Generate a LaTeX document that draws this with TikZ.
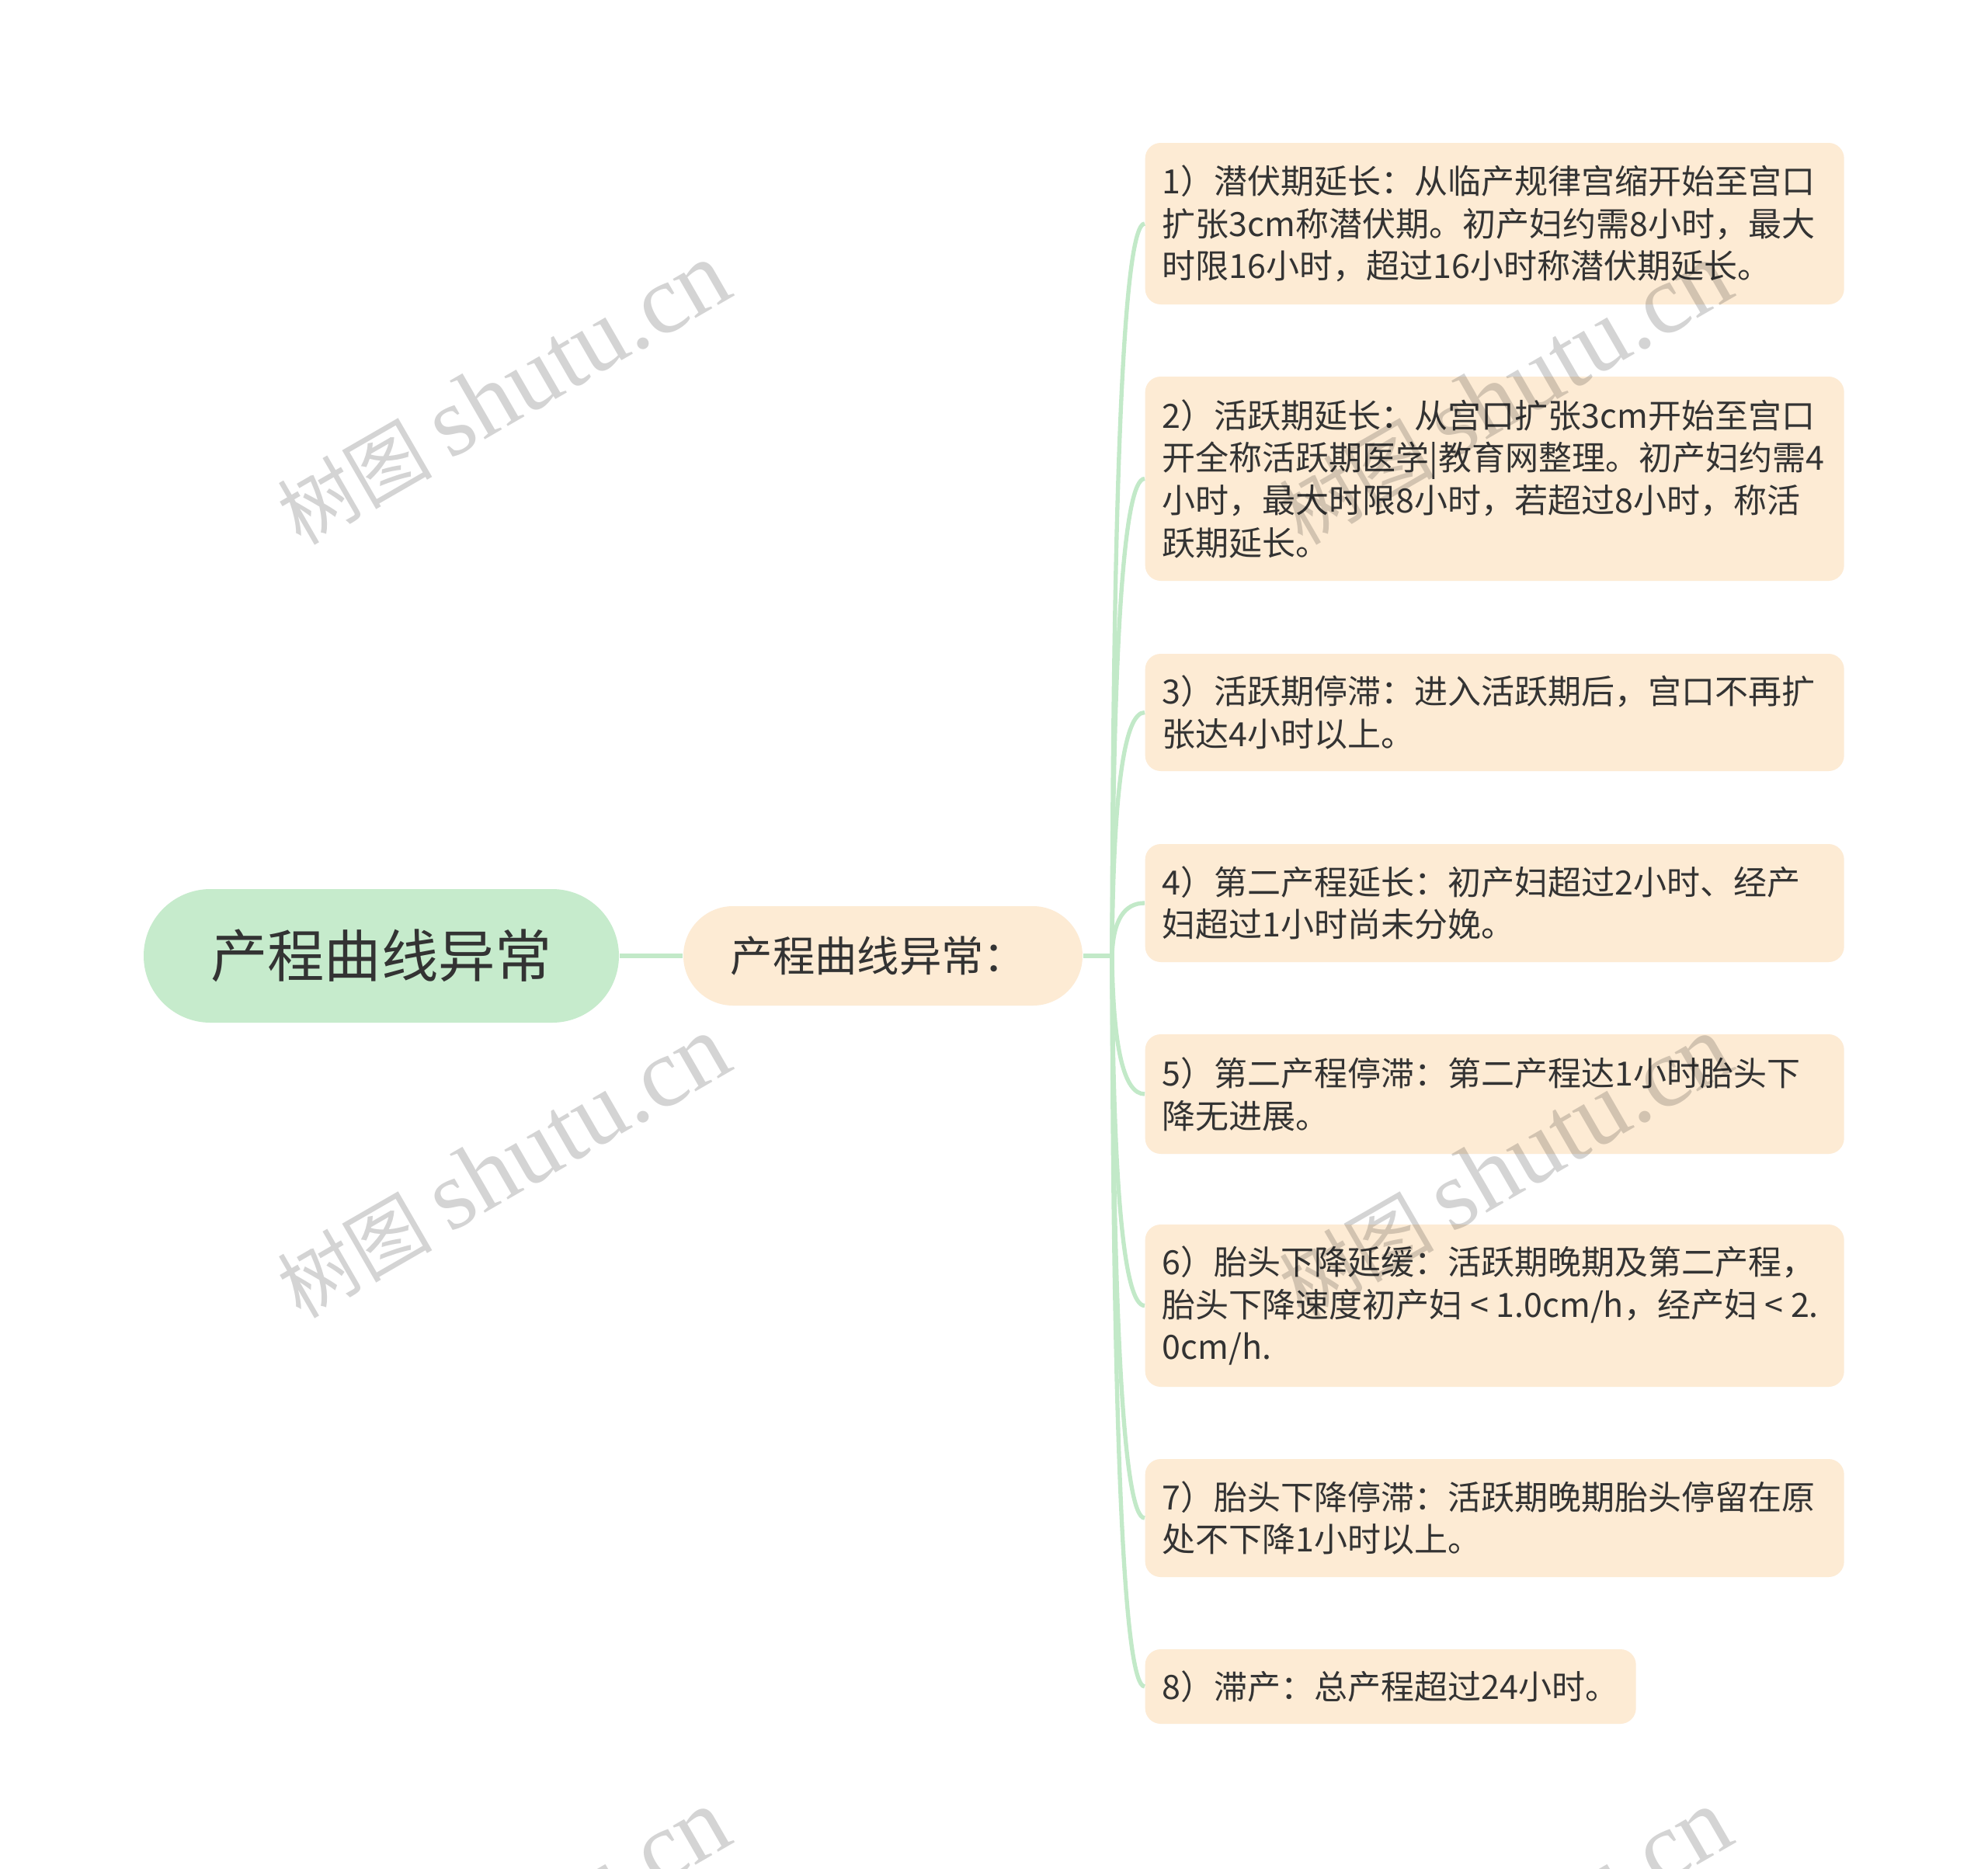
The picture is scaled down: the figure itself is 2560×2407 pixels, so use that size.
\documentclass[tikz,border=0pt]{standalone}
\usepackage{fontspec}
\setmainfont{Noto Sans CJK SC}
\newfontfamily\wmlatin{Liberation Serif}
\definecolor{lineg}{HTML}{C2E9C8}
\definecolor{rootg}{HTML}{C6EBCC}
\definecolor{peach}{HTML}{FDEBD4}
\definecolor{txt}{HTML}{333333}
\newcommand\ltsym{\makebox[1em]{<}}
\begin{document}
\begin{tikzpicture}[x=0.3pt,y=-0.3pt,
  conn/.style={draw=lineg, line width=1.6pt},
  rootbox/.style={fill=rootg, rounded corners=25.8pt, minimum width=183.6pt, minimum height=51.6pt, inner sep=0pt, text=txt, font=\fontsize{22pt}{26pt}\selectfont},
  subbox/.style={fill=peach, rounded corners=19.2pt, minimum width=154.2pt, minimum height=38.4pt, inner sep=0pt, text=txt, font=\fontsize{16.3pt}{19pt}\selectfont},
  itembox/.style={fill=peach, rounded corners=6pt, anchor=west, text width=256.8pt, inner xsep=6.6pt, inner ysep=0pt, align=left, text=txt, font=\fontsize{12.9pt}{16.4pt}\selectfont},
  wm/.style={rotate=30, text=black, text opacity=0.17, font=\fontsize{30pt}{40pt}\selectfont}
]
\useasboundingbox (0,0) rectangle (2560,2407);
\fill[white] (0,0) rectangle (2560,2407);

% nodes
\node[rootbox] (root) at (491,1231) {产程曲线异常};
\node[subbox] (sub) at (1137,1231) {产程曲线异常：\hspace*{3.6pt}};
\coordinate (j) at (1432,1231);

\node[itembox, minimum height=62.4pt] (i1) at (1474,288) {1）潜伏期延长：从临产规律宫缩开始至宫口\\扩张3cm称潜伏期。初产妇约需8小时，最大\\时限16小时，超过16小时称潜伏期延长。};
\node[itembox, minimum height=78.9pt] (i2) at (1474,616.5) {2）活跃期延长：从宫口扩张3cm开始至宫口\\开全称活跃期医学|教育网整理。初产妇约需4\\小时，最大时限8小时，若超过8小时，称活\\跃期延长。};
\node[itembox, minimum height=45.3pt] (i3) at (1474,917.5) {3）活跃期停滞：进入活跃期后，宫口不再扩\\张达4小时以上。};
\node[itembox, minimum height=45.6pt] (i4) at (1474,1163) {4）第二产程延长：初产妇超过2小时、经产\\妇超过1小时尚未分娩。};
\node[itembox, minimum height=46.2pt] (i5) at (1474,1409) {5）第二产程停滞：第二产程达1小时胎头下\\降无进展。};
\node[itembox, minimum height=62.7pt] (i6) at (1474,1681.5) {6）胎头下降延缓：活跃期晚期及第二产程，\\胎头下降速度初产妇\ltsym1.0cm/h，经产妇\ltsym2.\\0cm/h.};
\node[itembox, minimum height=45.6pt] (i7) at (1474,1955) {7）胎头下降停滞：活跃期晚期胎头停留在原\\处不下降1小时以上。};
\node[itembox, minimum height=28.8pt, text width=176.4pt] (i8) at (1474,2172) {8）滞产：总产程超过24小时。};

% connectors
\draw[conn] (root.east) -- (sub.west);
\draw[conn] (sub.east) -- (j);
\draw[conn] (j) .. controls (1433.3,602.3) and (1447.3,288) .. (i1.west);
\draw[conn] (j) .. controls (1433.3,821.3) and (1447.3,616.5) .. (i2.west);
\draw[conn] (j) .. controls (1433.3,1022) and (1447.3,917.5) .. (i3.west);
\draw[conn] (j) .. controls (1433.3,1185.7) and (1447.3,1163) .. (i4.west);
\draw[conn] (j) .. controls (1433.3,1349.7) and (1447.3,1409) .. (i5.west);
\draw[conn] (j) .. controls (1433.3,1531.3) and (1447.3,1681.5) .. (i6.west);
\draw[conn] (j) .. controls (1433.3,1713.7) and (1447.3,1955) .. (i7.west);
\draw[conn] (j) .. controls (1433.3,1858.3) and (1447.3,2172) .. (i8.west);

% watermarks
\node[wm] (w1) at (648,507) {树图 {\wmlatin\fontsize{38pt}{40pt}\selectfont shutu.cn}};
\node[wm] (w2) at (648,1503) {树图 {\wmlatin\fontsize{38pt}{40pt}\selectfont shutu.cn}};
\node[wm] (w3) at (1938,507) {树图 {\wmlatin\fontsize{38pt}{40pt}\selectfont shutu.cn}};
\node[wm] (w4) at (1938,1503) {树图 {\wmlatin\fontsize{38pt}{40pt}\selectfont shutu.cn}};
\node[wm] (w5) at (648,2499) {树图 {\wmlatin\fontsize{38pt}{40pt}\selectfont shutu.cn}};
\node[wm] (w6) at (1938,2499) {树图 {\wmlatin\fontsize{38pt}{40pt}\selectfont shutu.cn}};
\end{tikzpicture}
\end{document}
